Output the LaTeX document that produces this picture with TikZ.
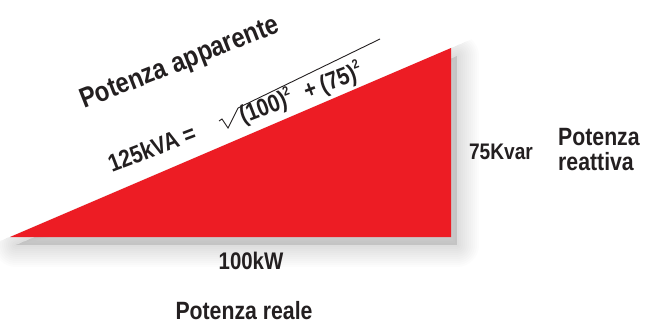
\documentclass[tikz,border=0pt]{standalone}
\usepackage{fontspec}
\setmainfont[FakeStretch=0.85]{Liberation Sans}
\usetikzlibrary{positioning,calc}
\definecolor{triRed}{HTML}{ED1C24}
\definecolor{inkGray}{HTML}{231F20}
\newcommand{\sqr}{\raisebox{0.45em}{\fontsize{13}{13}\selectfont 2}}

\begin{document}
\begin{tikzpicture}[x=1pt, y=-1pt, font=\bfseries, text=inkGray]
\tikzstyle{title}=[inner sep=0pt, font=\fontsize{25}{25}\selectfont\bfseries]
\tikzstyle{value}=[inner sep=0pt, font=\fontsize{23}{26}\selectfont\bfseries]
\tikzstyle{slant}=[inner sep=0pt, anchor=base west, rotate=21]
\useasboundingbox (0,0) rectangle (652,323);
\coordinate (L) at (10,237);
\coordinate (R) at (451,237);
\coordinate (T) at (451,48);
% soft shadow
\begin{scope}
\clip (0,323) -- (0,241) -- (652,-38) -- (652,323) -- cycle;
\foreach \w in {4,8,...,44}
  \filldraw[black, opacity=0.011, line width=\w pt, line join=round]
    ([shift={(6,8)}]L) -- ([shift={(6,8)}]R) -- ([shift={(6,8)}]T) -- cycle;
\end{scope}
\fill[triRed] (L) -- (R) -- (T) -- cycle;
% labels
\node[title, slant, rotate=0.5, font=\fontsize{28}{30}\selectfont\bfseries] (app) at (84,109) {Potenza apparente};
\node[value, slant, font=\fontsize{24.5}{27}\selectfont\bfseries] (kva) at (112,173) {125kVA =};
\node[value, slant, font=\fontsize{24.5}{27}\selectfont\bfseries] (sq) at (243,124)
  {(100)\sqr\hspace{14pt}+\hspace{5pt}(75)\sqr};
\draw[inkGray, line width=0.9pt, line join=miter]
  (219,121) -- (222,119) -- (228,128) -- (238,108) -- (380,39);
\node[value, anchor=base, font=\fontsize{24}{26}\selectfont\bfseries] (kw) at (251,269) {100kW};
\node[title, anchor=base] (real) at (244,319) {Potenza reale};
\node[value, anchor=base, font=\fontsize{22.5}{26}\selectfont\bfseries] (kvar) at (501,160) {75Kvar};
\node[title, align=left, anchor=north west] (reat) at (558,128) {Potenza\\reattiva};
\end{tikzpicture}
\end{document}
